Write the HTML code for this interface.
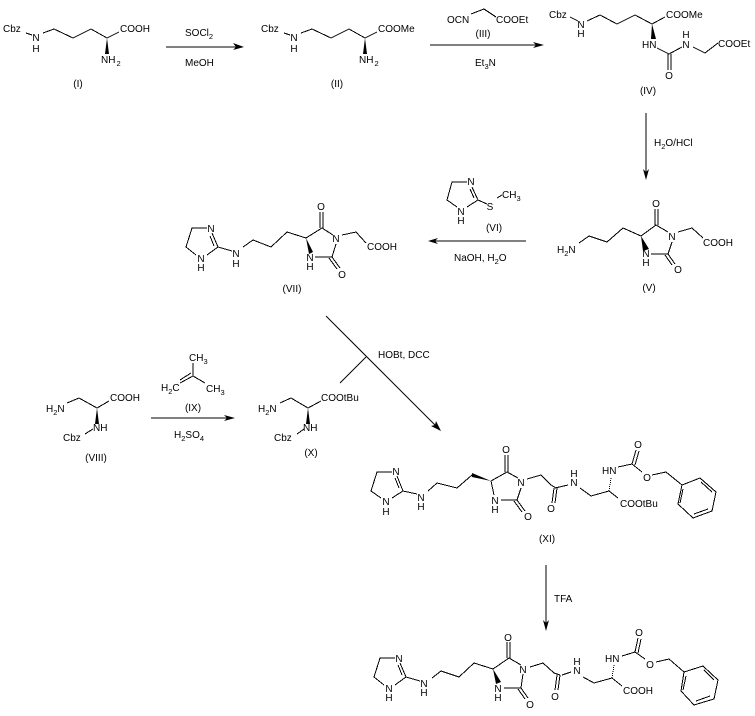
<!DOCTYPE html>
<html><head><meta charset="utf-8"><style>
html,body{margin:0;padding:0;background:#fff}
svg{display:block}
text{font-family:"Liberation Sans",sans-serif;font-size:10px;fill:#000}
.m{text-anchor:middle}
.s{font-size:7.5px}
polyline,line{fill:none;stroke:#000;stroke-width:1;shape-rendering:crispEdges}
</style></head><body>
<svg width="755" height="716" viewBox="0 0 755 716" xmlns="http://www.w3.org/2000/svg">
<rect width="755" height="716" fill="#fff"/>

<!-- I -->
<text x="3" y="32">Cbz</text><text x="36" y="41" class="m">N</text><text x="36" y="52" class="m">H</text>
<line x1="26" y1="33" x2="32" y2="35"/>
<polyline points="43,33 54,29 73,38 91,29 107,38 119,32"/>
<text x="120" y="32">COOH</text>
<polygon points="107,38 105,54 109,54"/>
<text x="101" y="63">NH<tspan class="s" dy="3" dx="1">2</tspan></text>
<text x="78" y="87" class="m">(I)</text>

<!-- arrow 1 -->
<line x1="166" y1="47" x2="238" y2="47"/><polygon points="244,47 233,43 236,47 233,50"/>
<text x="185" y="36">SOCl<tspan class="s" dy="3">2</tspan></text>
<text x="185" y="66">MeOH</text>

<!-- II -->
<text x="261" y="32">Cbz</text><text x="294" y="41" class="m">N</text><text x="294" y="52" class="m">H</text>
<line x1="284" y1="33" x2="290" y2="35"/>
<polyline points="301,33 312,29 331,38 349,29 365,38 377,32"/>
<text x="378" y="32">COOMe</text>
<polygon points="365,38 363,54 367,54"/>
<text x="359" y="63">NH<tspan class="s" dy="3" dx="1">2</tspan></text>
<text x="337" y="87" class="m">(II)</text>

<!-- arrow 2 & III -->
<line x1="430" y1="45" x2="538" y2="45"/><polygon points="544,45 533,42 536,45 533,48"/>
<text x="447" y="23">OCN</text>
<polyline points="471,14 484,9 496,17"/>
<text x="496" y="23">COOEt</text>
<text x="483" y="37" class="m">(III)</text>
<text x="475" y="66">Et<tspan class="s" dy="3">3</tspan><tspan dy="-3">N</tspan></text>

<!-- IV -->
<text x="549" y="18">Cbz</text><text x="581" y="28" class="m">N</text><text x="581" y="37" class="m">H</text>
<line x1="570" y1="17" x2="578" y2="21"/>
<polyline points="587,21 600,15 617,24 635,15 652,24 665,17"/>
<text x="666" y="18">COOMe</text>
<polygon points="652,24 651,39 656,39"/>
<text x="642" y="48">HN</text>
<polyline points="657,48 669,54 682,47"/>
<line x1="668" y1="54" x2="668" y2="70"/><line x1="671" y1="54" x2="671" y2="70"/>
<text x="669" y="79" class="m">O</text>
<text x="686" y="48" class="m">N</text><text x="686" y="38" class="m">H</text>
<polyline points="693,47 705,53 718,43"/>
<text x="718" y="47">COOEt</text>
<text x="648" y="94" class="m">(IV)</text>

<!-- arrow 3 -->
<line x1="646" y1="113" x2="646" y2="174"/><polygon points="646,180 643,169 646,172 649,169"/>
<text x="654" y="146">H<tspan class="s" dy="3">2</tspan><tspan dy="-3">O/HCl</tspan></text>

<!-- V -->
<text x="656" y="207" class="m">O</text>
<line x1="655" y1="209" x2="655" y2="225"/><line x1="658" y1="209" x2="658" y2="225"/>
<polyline points="641,236 656,225 668,232"/>
<text x="672" y="240" class="m">N</text>
<polyline points="678,232 692,228 703,238"/>
<text x="703" y="246">COOH</text>
<line x1="672" y1="242" x2="668" y2="254"/>
<line x1="668" y1="254" x2="651" y2="254"/>
<text x="646" y="257" class="m">N</text><text x="646" y="266" class="m">H</text>
<line x1="668" y1="254" x2="675" y2="264"/><line x1="665" y1="255" x2="672" y2="265"/>
<text x="678" y="273" class="m">O</text>
<polygon points="641,236 643,251 649,249"/>
<polyline points="641,236 623,228 607,242 589,236 579,243"/>
<text x="557" y="253">H<tspan class="s" dy="3">2</tspan><tspan dy="-3">N</tspan></text>
<text x="649" y="291" class="m">(V)</text>

<!-- VI + arrow -->
<text x="471" y="185" class="m">N</text>
<polyline points="467,182 452,182 447,200 457,207"/>
<text x="461" y="215" class="m">N</text><text x="461" y="224" class="m">H</text>
<polyline points="467,207 478,200 472,187"/>
<line x1="474" y1="198" x2="470" y2="189"/>
<line x1="478" y1="200" x2="487" y2="204"/>
<text x="490" y="210" class="m">S</text>
<line x1="497" y1="198" x2="502" y2="195"/>
<text x="502" y="198">CH<tspan class="s" dy="3">3</tspan></text>
<text x="494" y="231" class="m">(VI)</text>
<line x1="434" y1="241" x2="526" y2="241"/><polygon points="428,241 438,238 435,241 438,244"/>
<text x="454" y="261">NaOH, H<tspan class="s" dy="3">2</tspan><tspan dy="-3">O</tspan></text>

<!-- VII -->
<text x="211" y="232" class="m">N</text>
<polyline points="207,228 192,228 186,247 196,255"/>
<text x="201" y="262" class="m">N</text><text x="201" y="271" class="m">H</text>
<polyline points="207,255 218,247 212,233"/>
<line x1="214" y1="246" x2="210" y2="236"/>
<line x1="218" y1="247" x2="232" y2="251"/>
<text x="236" y="257" class="m">N</text><text x="236" y="267" class="m">H</text>
<polyline points="243,247 253,240 271,247 287,232 306,238 322,228 333,235"/>
<line x1="320" y1="212" x2="320" y2="228"/><line x1="323" y1="212" x2="323" y2="228"/>
<text x="321" y="210" class="m">O</text>
<text x="336" y="242" class="m">N</text>
<polyline points="342,235 356,232 366,243"/>
<text x="367" y="250">COOH</text>
<polyline points="336,244 332,257 315,257"/>
<text x="310" y="261" class="m">N</text><text x="310" y="270" class="m">H</text>
<line x1="332" y1="257" x2="340" y2="268"/><line x1="329" y1="258" x2="337" y2="269"/>
<text x="342" y="278" class="m">O</text>
<polygon points="306,238 309,254 313,252"/>
<text x="292" y="292" class="m">(VII)</text>

<!-- diagonal arrow -->
<line x1="326" y1="316" x2="437" y2="427" style="shape-rendering:auto"/>
<polygon points="441,431 431,426 435,425 436,421" />
<line x1="366" y1="357" x2="340" y2="383" style="shape-rendering:auto"/>
<text x="378" y="358">HOBt, DCC</text>

<!-- VIII -->
<text x="46" y="412">H<tspan class="s" dy="3">2</tspan><tspan dy="-3">N</tspan></text>
<polyline points="67,403 79,398 97,408 109,401"/>
<text x="110" y="401">COOH</text>
<polygon points="97,408 95,424 99,424"/>
<text x="93" y="431">NH</text>
<line x1="85" y1="434" x2="93" y2="429"/>
<text x="63" y="441">Cbz</text>
<text x="96" y="461" class="m">(VIII)</text>

<!-- IX + arrow -->
<text x="189" y="361">CH<tspan class="s" dy="3">3</tspan></text>
<line x1="193" y1="363" x2="193" y2="376"/>
<line x1="193" y1="376" x2="205" y2="383"/>
<line x1="193" y1="376" x2="180" y2="383"/>
<line x1="191" y1="373" x2="180" y2="380"/>
<text x="161" y="391">H<tspan class="s" dy="3">2</tspan><tspan dy="-3">C</tspan></text>
<text x="206" y="392">CH<tspan class="s" dy="3">3</tspan></text>
<text x="193" y="411" class="m">(IX)</text>
<line x1="151" y1="418" x2="229" y2="418"/><polygon points="235,418 224,415 227,418 224,421"/>
<text x="174" y="438">H<tspan class="s" dy="3">2</tspan><tspan dy="-3">SO</tspan><tspan class="s" dy="3">4</tspan></text>

<!-- X -->
<text x="258" y="412">H<tspan class="s" dy="3">2</tspan><tspan dy="-3">N</tspan></text>
<polyline points="280,403 291,398 308,408 321,401"/>
<text x="321" y="401">COOtBu</text>
<polygon points="308,408 306,424 310,424"/>
<text x="303" y="431">NH</text>
<line x1="297" y1="434" x2="304" y2="429"/>
<text x="274" y="441">Cbz</text>
<text x="311" y="456" class="m">(X)</text>

<!-- XI -->
<text x="396" y="475" class="m">N</text>
<polyline points="392,472 377,472 371,491 381,498"/>
<text x="386" y="505" class="m">N</text><text x="386" y="515" class="m">H</text>
<polyline points="392,498 403,491 397,476"/>
<line x1="399" y1="488" x2="395" y2="478"/>
<line x1="403" y1="491" x2="417" y2="494"/>
<text x="421" y="501" class="m">N</text><text x="421" y="510" class="m">H</text>
<polyline points="428,491 437,483 457,488 472,475"/>
<polygon points="472,473 472,477 491,481"/>
<polyline points="491,481 507,472 518,478"/>
<line x1="505" y1="455" x2="505" y2="472"/><line x1="508" y1="455" x2="508" y2="472"/>
<text x="506" y="453" class="m">O</text>
<text x="521" y="486" class="m">N</text>
<polyline points="527,479 541,475 551,485 556,488"/>
<polyline points="521,488 517,500 501,500"/>
<text x="495" y="504" class="m">N</text><text x="495" y="513" class="m">H</text>
<line x1="491" y1="481" x2="494" y2="495"/>
<line x1="517" y1="500" x2="525" y2="511"/><line x1="514" y1="501" x2="522" y2="512"/>
<text x="528" y="520" class="m">O</text>
<line x1="555" y1="488" x2="568" y2="485"/>
<line x1="557" y1="488" x2="555" y2="503"/><line x1="554" y1="488" x2="552" y2="503"/>
<text x="551" y="512" class="m">O</text>
<text x="574" y="486" class="m">N</text><text x="574" y="477" class="m">H</text>
<polyline points="580,488 591,496 609,491 618,498"/>
<text x="620" y="507">COOtBu</text>
<line x1="609" y1="491" x2="611" y2="478" stroke-dasharray="1 1"/>
<text x="602" y="474">HN</text>
<line x1="618" y1="467" x2="632" y2="464"/>
<line x1="632" y1="464" x2="636" y2="450"/><line x1="635" y1="465" x2="639" y2="451"/>
<text x="638" y="448" class="m">O</text>
<line x1="632" y1="464" x2="642" y2="472"/>
<text x="647" y="481" class="m">O</text>
<polyline points="652,475 666,472 682,485"/>
<polyline points="682,485 700,478 716,492 712,511 693,518 678,504 682,485"/>
<line x1="683" y1="489" x2="680" y2="503"/><line x1="701" y1="482" x2="712" y2="492"/><line x1="694" y1="514" x2="708" y2="509"/>
<text x="547" y="542" class="m">(XI)</text>

<!-- TFA arrow -->
<line x1="546" y1="565" x2="546" y2="625"/><polygon points="546,631 543,620 546,623 549,620"/>
<text x="554" y="602">TFA</text>

<!-- XII -->
<text x="399" y="662" class="m">N</text>
<polyline points="395,658 380,658 374,677 384,685"/>
<text x="389" y="692" class="m">N</text><text x="389" y="701" class="m">H</text>
<polyline points="395,685 406,677 400,663"/>
<line x1="402" y1="675" x2="398" y2="665"/>
<line x1="406" y1="677" x2="420" y2="681"/>
<text x="424" y="687" class="m">N</text><text x="424" y="696" class="m">H</text>
<polyline points="432,678 441,671 459,677 474,663 493,669 509,658 521,665"/>
<line x1="507" y1="642" x2="507" y2="658"/><line x1="510" y1="642" x2="510" y2="658"/>
<text x="508" y="641" class="m">O</text>
<text x="523" y="673" class="m">N</text>
<polyline points="530,667 543,663 554,673 560,675"/>
<polyline points="523,674 521,688 504,688"/>
<text x="498" y="692" class="m">N</text><text x="498" y="701" class="m">H</text>
<polygon points="493,669 496,684 501,682"/>
<line x1="521" y1="688" x2="528" y2="698"/><line x1="518" y1="689" x2="525" y2="699"/>
<text x="530" y="708" class="m">O</text>
<line x1="562" y1="675" x2="571" y2="672"/>
<line x1="560" y1="675" x2="558" y2="690"/><line x1="557" y1="675" x2="555" y2="690"/>
<text x="555" y="700" class="m">O</text>
<text x="577" y="674" class="m">N</text><text x="577" y="665" class="m">H</text>
<polyline points="583,677 594,683 612,678 622,686"/>
<text x="623" y="694">COOH</text>
<line x1="612" y1="678" x2="614" y2="665" stroke-dasharray="1 1"/>
<text x="605" y="662">HN</text>
<line x1="622" y1="656" x2="635" y2="652"/>
<line x1="635" y1="652" x2="638" y2="638"/><line x1="638" y1="653" x2="641" y2="639"/>
<text x="639" y="636" class="m">O</text>
<line x1="635" y1="652" x2="645" y2="659"/>
<text x="650" y="668" class="m">O</text>
<polyline points="656,662 669,659 684,672"/>
<polyline points="684,672 703,666 718,680 714,699 694,705 681,691 684,672"/>
<line x1="686" y1="676" x2="683" y2="690"/><line x1="704" y1="670" x2="714" y2="680"/><line x1="696" y1="701" x2="710" y2="696"/>
</svg>
</body></html>
